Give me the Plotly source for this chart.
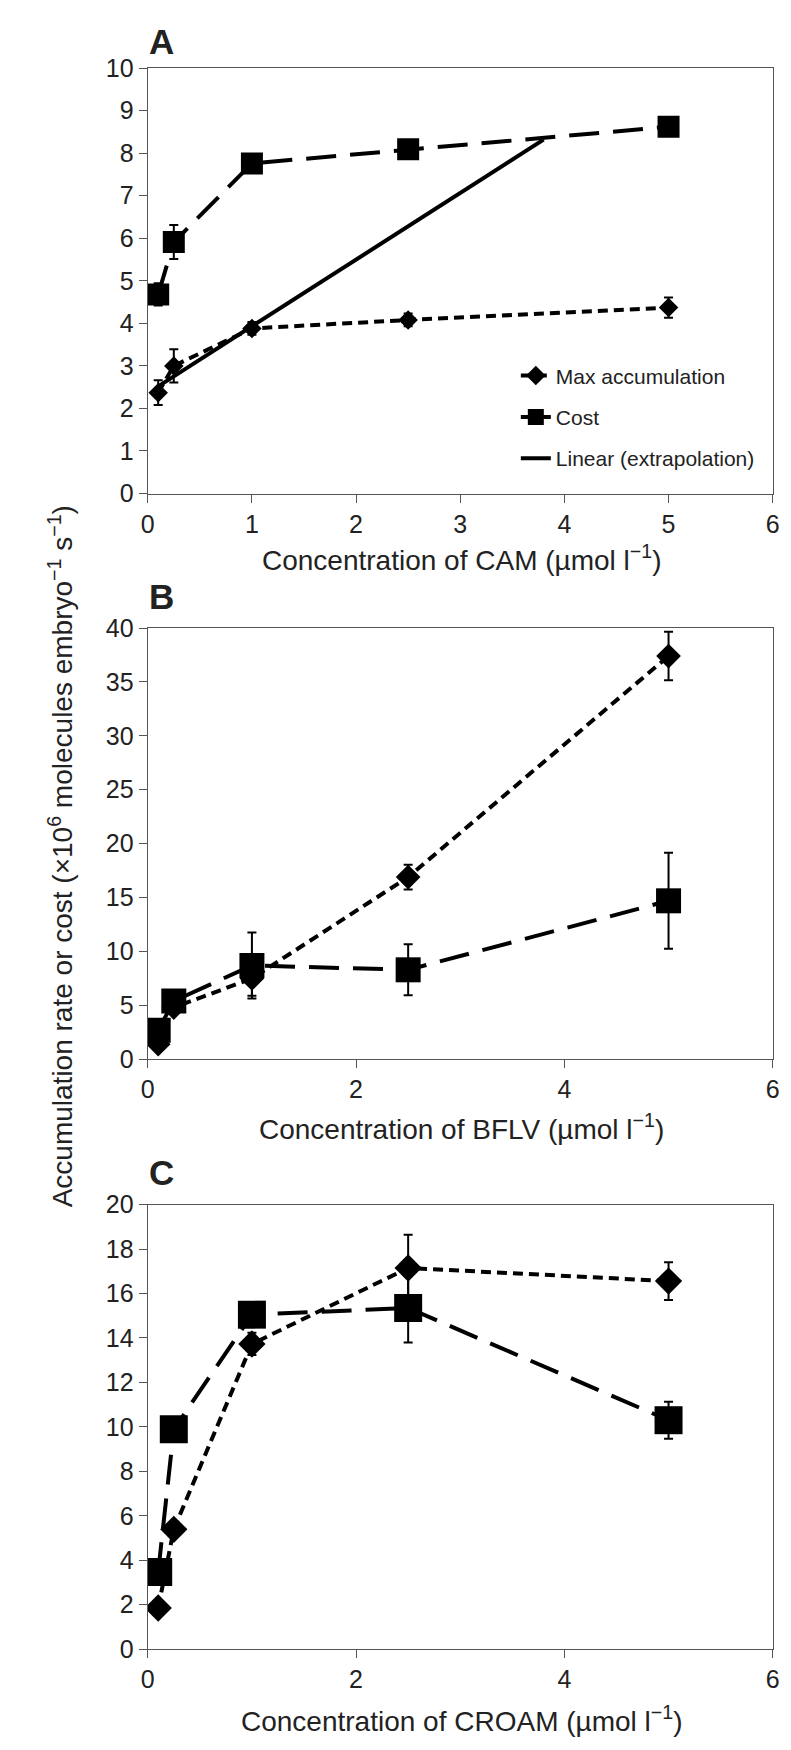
import plotly.graph_objects as go

W, H = 791, 1750

# Panel A: CAM
cam_x = [0.1, 0.25, 1, 2.5, 5]
cam_max = [2.37, 3.0, 3.88, 4.08, 4.37]
cam_max_err = [0.29, 0.39, 0.15, 0.15, 0.24]
cam_cost = [4.68, 5.91, 7.76, 8.09, 8.62]
cam_cost_err = [0.26, 0.40, 0.15, 0.15, 0.15]
lin_x = [0.1, 3.8]
lin_y = [2.52, 8.32]

# Panel B: BFLV
bflv_x = [0.1, 0.25, 1, 2.5, 5]
bflv_max = [1.4, 4.8, 7.5, 16.9, 37.4]
bflv_max_err = [0.3, 0.5, 1.6, 1.15, 2.25]
bflv_cost = [2.7, 5.4, 8.7, 8.3, 14.7]
bflv_cost_err = [0.5, 0.6, 3.05, 2.37, 4.45]

# Panel C: CROAM
croam_x = [0.1, 0.25, 1, 2.5, 5]
croam_max = [1.85, 5.39, 13.73, 17.15, 16.56]
croam_max_err = [0.2, 0.3, 0.5, 1.5, 0.85]
croam_cost = [3.47, 9.89, 15.05, 15.35, 10.3]
croam_cost_err = [0.3, 0.4, 0.4, 1.55, 0.83]

panel_letters = ['A', 'B', 'C']
x_titles = ['Concentration of CAM (µmol l<sup>−1</sup>)',
            'Concentration of BFLV (µmol l<sup>−1</sup>)',
            'Concentration of CROAM (µmol l<sup>−1</sup>)']
y_title = 'Accumulation rate or cost (×10<sup>6</sup> molecules embryo<sup>−1</sup> s<sup>−1</sup>)'

FONT = 'Liberation Sans, Arial, sans-serif'
TXT = '#222222'
AX = '#555555'

# pixel layout of the three panels (top, bottom)
px_left, px_right = 143.3, 779.5
panels = [(55, 487.3), (624, 1062.3), (1210, 1661.7)]
letter_y = [28, 592, 1177]
xtitle_y = [553, 1131, 1733]

sq_size = [22, 25, 28]
dm_size = [15, 19, 21]

fig = go.Figure()

data = [
    (cam_x, cam_max, cam_max_err, cam_cost, cam_cost_err),
    (bflv_x, bflv_max, bflv_max_err, bflv_cost, bflv_cost_err),
    (croam_x, croam_max, croam_max_err, croam_cost, croam_cost_err),
]

for i, (x, mx, mxe, cs, cse) in enumerate(data):
    xa = 'x' if i == 0 else f'x{i+1}'
    ya = 'y' if i == 0 else f'y{i+1}'
    first = i == 0
    fig.add_trace(go.Scatter(
        x=x, y=mx, mode='lines+markers', name='Max accumulation',
        line=dict(color='black', width=4, dash='10px,6px'),
        marker=dict(symbol='diamond', size=dm_size[i], color='black'),
        error_y=dict(type='data', array=mxe, color='black', thickness=2, width=4.5),
        xaxis=xa, yaxis=ya, showlegend=first, legendgroup='max'
    ))
    fig.add_trace(go.Scatter(
        x=x, y=cs, mode='lines+markers', name='Cost',
        line=dict(color='black', width=4, dash='30px,14px'),
        marker=dict(symbol='square', size=sq_size[i], color='black'),
        error_y=dict(type='data', array=cse, color='black', thickness=2, width=4.5),
        xaxis=xa, yaxis=ya, showlegend=first, legendgroup='cost'
    ))

fig.add_trace(go.Scatter(
    x=lin_x, y=lin_y, mode='lines', name='Linear (extrapolation)',
    line=dict(color='black', width=4),
    xaxis='x', yaxis='y', legendgroup='lin'
))

yranges = [(0, 10, 1), (0, 40, 5), (0, 20, 2)]
xdticks = [1, 2, 2]

axis_common = dict(
    showline=True, mirror=True, linecolor=AX, linewidth=1.2,
    ticks='outside', ticklen=8, tickcolor=AX, tickwidth=1.2,
    showgrid=False, zeroline=False,
    tickfont=dict(family=FONT, size=25, color=TXT),
)

layout = dict(
    width=W, height=H,
    margin=dict(l=0, r=0, t=0, b=0),
    plot_bgcolor='white', paper_bgcolor='white',
    font=dict(family=FONT, color=TXT),
    legend=dict(
        x=518 / W, y=1 - 347 / H, xanchor='left', yanchor='top',
        font=dict(family=FONT, size=21, color=TXT),
        tracegroupgap=11, traceorder='grouped',
        bgcolor='rgba(0,0,0,0)'
    ),
)

annotations = []
for i, (top, bot) in enumerate(panels):
    xk = 'xaxis' if i == 0 else f'xaxis{i+1}'
    yk = 'yaxis' if i == 0 else f'yaxis{i+1}'
    ya = 'y' if i == 0 else f'y{i+1}'
    xa = 'x' if i == 0 else f'x{i+1}'
    layout[xk] = dict(axis_common, domain=[px_left / W, px_right / W],
                      range=[0, 6], dtick=xdticks[i], tick0=0, anchor=ya)
    y0, y1, dy = yranges[i]
    layout[yk] = dict(axis_common, domain=[1 - bot / H, 1 - top / H],
                      range=[y0, y1], dtick=dy, tick0=0, anchor=xa)
    annotations.append(dict(
        text=panel_letters[i], x=157 / W, y=1 - letter_y[i] / H,
        xref='paper', yref='paper', showarrow=False,
        xanchor='center', yanchor='middle',
        font=dict(family=FONT, size=35, color=TXT, weight='bold')
    ))
    annotations.append(dict(
        text=x_titles[i], x=463 / W, y=1 - xtitle_y[i] / H,
        xref='paper', yref='paper', showarrow=False,
        xanchor='center', yanchor='middle',
        font=dict(family=FONT, size=28, color=TXT)
    ))

annotations.append(dict(
    text=y_title, x=55 / W, y=1 - 856 / H, textangle=-90,
    xref='paper', yref='paper', showarrow=False,
    xanchor='center', yanchor='middle',
    font=dict(family=FONT, size=28, color=TXT)
))
layout['annotations'] = annotations

fig.update_layout(**layout)
fig.write_html(
    'out.html',
    config={'displayModeBar': False},
    post_script=("document.documentElement.style.margin='0';"
                 "document.body.style.margin='0';"
                 "document.documentElement.style.overflow='hidden';"
                 "document.body.style.overflow='hidden';"),
)
